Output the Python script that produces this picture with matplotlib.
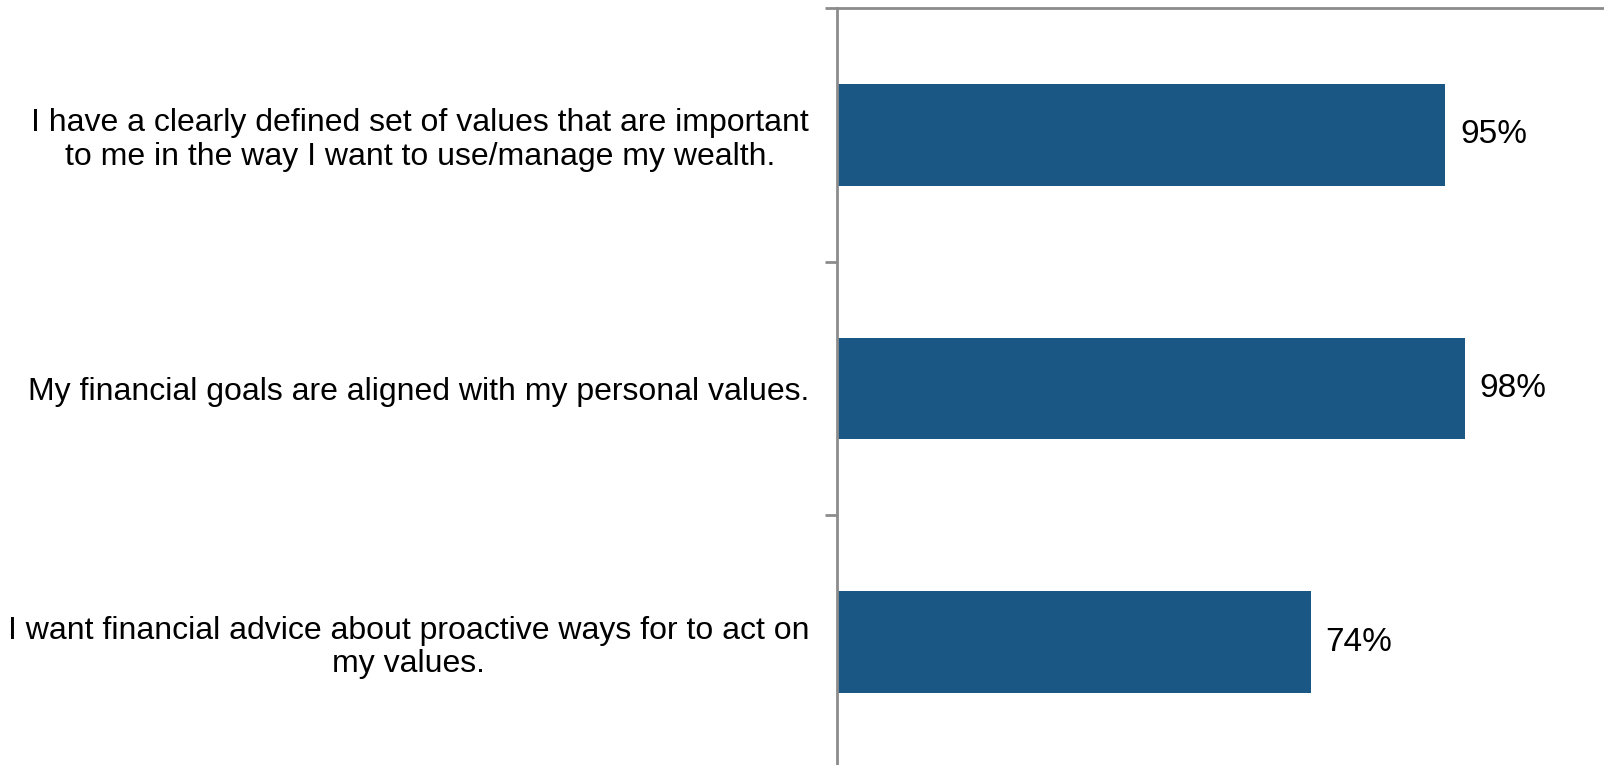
import matplotlib
matplotlib.use('Agg')
import matplotlib.pyplot as plt
import numpy as np

statements = [
    'I have a clearly defined set of values that are important\nto me in the way I want to use/manage my wealth.',
    'My financial goals are aligned with my personal values.',
    'I want financial advice about proactive ways for to act on\nmy values.',
]
pct_agree = [95, 98, 74]

bar_color = '#1A5785'
axis_color = '#8C8C8C'

plt.rcParams['font.family'] = ['Liberation Sans', 'DejaVu Sans']

fig = plt.figure(figsize=(16.04, 7.65), dpi=100)
# axes left edge at the spine, running off the right and bottom of the figure
ax = fig.add_axes([837 / 1604, -4 / 765, 767 / 1604, 761 / 765])

y = np.arange(len(statements))
ax.barh(y, pct_agree, height=0.4, color=bar_color)

for yi, v in zip(y, pct_agree):
    ax.text(v + 2.3, yi, f'{v}%', va='center', ha='left', fontsize=24)

ax.set_xlim(0, 119.75)
ax.set_ylim(len(statements) - 0.5, -0.5)

# category labels without ticks, boundary ticks as minor ticks
ax.set_yticks(y)
ax.set_yticklabels(statements, fontsize=23, ha='right', multialignment='center',
                   linespacing=1.15)
ax.tick_params(axis='y', which='major', length=0, pad=20)
ax.set_yticks(np.arange(-0.5, len(statements) + 0.5, 1), minor=True)
ax.tick_params(axis='y', which='minor', length=9, width=2, color=axis_color, direction='out')
ax.set_xticks([])

for side in ['right', 'bottom']:
    ax.spines[side].set_visible(False)
for side in ['left', 'top']:
    ax.spines[side].set_color(axis_color)
    ax.spines[side].set_linewidth(2)

fig.savefig('out.png', dpi=100)
